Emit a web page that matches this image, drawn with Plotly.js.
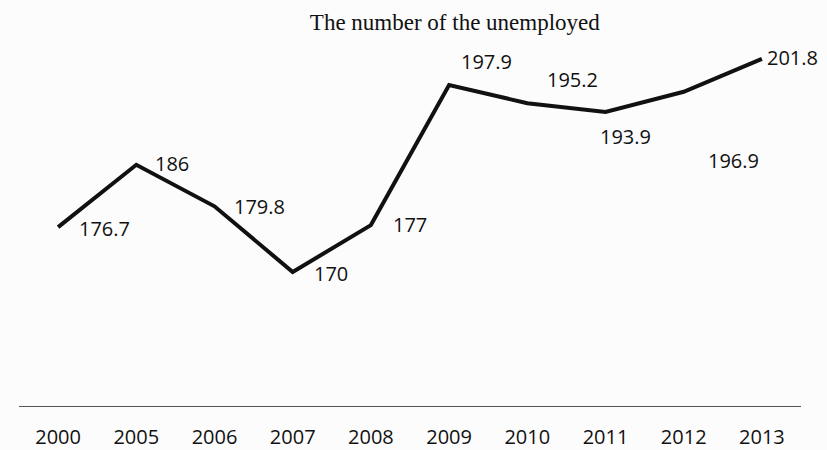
<!DOCTYPE html>
<html><head><meta charset="utf-8">
<script src="https://cdn.plot.ly/plotly-3.0.1.min.js"></script>
<style>html,body{margin:0;padding:0;background:#fcfcfc;}</style>
</head><body>
<div id="chart" style="width:827px;height:450px;"></div>
<script>
const years = ['2000','2005','2006','2007','2008','2009','2010','2011','2012','2013'];
const unemployed = [176.7, 186, 179.8, 170, 177, 197.9, 195.2, 193.9, 196.9, 201.8];
const labelText = ['176.7','186','179.8','170','177','197.9','195.2','193.9','196.9','201.8'];
// label offsets in pixels (styling only)
const labelDx = [19, 17, 17, 19, 20, 10, 18, -8, 22, 3];
const labelDy = [-1, 1, 0, -1, 1, 24, 24, -25, -69, 1];

const annotations = years.map((y, i) => ({
  x: i, y: unemployed[i], xref: 'x', yref: 'y',
  text: labelText[i], showarrow: false,
  xanchor: 'left', yanchor: 'middle',
  xshift: labelDx[i], yshift: labelDy[i],
  font: {family: 'Open Sans, Liberation Sans, sans-serif', size: 20, color: '#111'}
}));

const trace = {
  x: years, y: unemployed, type: 'scatter', mode: 'lines',
  line: {color: '#111', width: 4},
  hoverinfo: 'skip'
};

const layout = {
  width: 827, height: 450,
  paper_bgcolor: '#fcfcfc', plot_bgcolor: '#fcfcfc',
  margin: {l: 19, r: 26, t: 4, b: 44},
  showlegend: false,
  title: {
    text: 'The number of the unemployed',
    font: {family: 'Liberation Serif, Times New Roman, serif', size: 23, color: '#111'},
    x: 0.55, xref: 'container', xanchor: 'center',
    y: 0.951, yref: 'container', yanchor: 'middle'
  },
  xaxis: {
    type: 'category', range: [-0.5, 9.5],
    showline: true, linecolor: '#555', linewidth: 1,
    showgrid: false, zeroline: false,
    ticks: 'outside', ticklen: 13, tickcolor: 'rgba(0,0,0,0)',
    tickfont: {family: 'Open Sans, Liberation Sans, sans-serif', size: 20, color: '#111'}
  },
  yaxis: {
    range: [150, 210], showgrid: false, zeroline: false,
    showline: false, showticklabels: false, ticks: ''
  },
  annotations: annotations
};

Plotly.newPlot('chart', [trace], layout, {displayModeBar: false, staticPlot: true});
</script>
</body></html>
